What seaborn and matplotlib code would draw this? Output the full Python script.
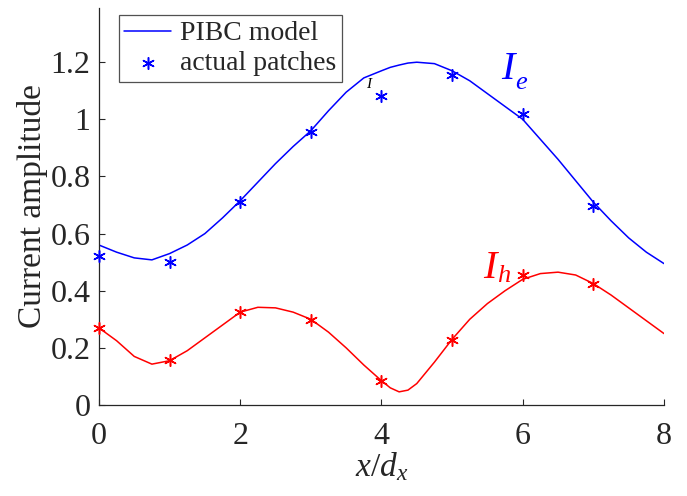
import numpy as np
import pandas as pd
import matplotlib
matplotlib.use("Agg")
import matplotlib.pyplot as plt
import seaborn as sns

# DATA
# patch positions and measured amplitudes
patch_x = [0, 1, 2, 3, 4, 5, 6, 7]
ie_patch = [0.52, 0.50, 0.71, 0.955, 1.08, 1.155, 1.02, 0.695]
ih_patch = [0.27, 0.157, 0.325, 0.297, 0.084, 0.227, 0.455, 0.425]

# PIBC model curves
model_x = [0, 0.25, 0.5, 0.75, 1, 1.25, 1.5, 1.75, 2, 2.25, 2.5, 2.75, 3,
           3.25, 3.5, 3.75, 4, 4.125, 4.25, 4.375, 4.5, 4.75, 5, 5.25, 5.5,
           5.75, 6, 6.25, 6.5, 6.75, 7, 7.25, 7.5, 7.75, 8]
ie_model = [0.56, 0.535, 0.515, 0.508, 0.53, 0.56, 0.60, 0.655, 0.715, 0.78,
            0.845, 0.905, 0.96, 1.03, 1.095, 1.145, 1.17, 1.182, 1.19, 1.197,
            1.20, 1.195, 1.17, 1.135, 1.09, 1.045, 1.0, 0.93, 0.86, 0.785,
            0.71, 0.645, 0.585, 0.535, 0.495]
ih_model = [0.27, 0.225, 0.17, 0.143, 0.155, 0.19, 0.235, 0.28, 0.325, 0.342,
            0.34, 0.325, 0.30, 0.255, 0.20, 0.14, 0.085, 0.06, 0.046, 0.052,
            0.075, 0.15, 0.23, 0.30, 0.355, 0.40, 0.44, 0.46, 0.465, 0.455,
            0.425, 0.385, 0.34, 0.295, 0.25]

x_ticks = [0, 2, 4, 6, 8]
y_ticks = [0, 0.2, 0.4, 0.6, 0.8, 1, 1.2]
y_tick_labels = ["0", "0.2", "0.4", "0.6", "0.8", "1", "1.2"]

sns.set_style("ticks")
plt.rcParams["font.family"] = ["Liberation Serif", "DejaVu Serif"]
plt.rcParams["mathtext.fontset"] = "custom"
plt.rcParams["mathtext.rm"] = "Liberation Serif"
plt.rcParams["mathtext.it"] = "Liberation Serif:italic"
plt.rcParams["xtick.direction"] = "in"
plt.rcParams["ytick.direction"] = "in"

fig = plt.figure(figsize=(6.87, 4.96), dpi=100)
ax = fig.add_axes([0.144, 0.1835, 0.8225, 0.8005])

model = pd.DataFrame({"x": model_x, "ie": ie_model, "ih": ih_model})
patches = pd.DataFrame({"x": patch_x, "ie": ie_patch, "ih": ih_patch})

star = (6, 2, 0)

sns.lineplot(data=model, x="x", y="ie", color="#0000ff", lw=1.1, ax=ax,
             label="PIBC model")
sns.scatterplot(data=patches, x="x", y="ie", color="#0000ff", marker=star,
                s=70, linewidth=1.1, ax=ax, label="actual patches",
                clip_on=False, zorder=5)
sns.lineplot(data=model, x="x", y="ih", color="#ff0000", lw=1.1, ax=ax)
sns.scatterplot(data=patches, x="x", y="ih", color="#ff0000", marker=star,
                s=70, linewidth=1.1, ax=ax, clip_on=False, zorder=5)

ax.set_xlim(0, 8)
ax.set_ylim(0, 1.39)
ax.set_xticks(x_ticks)
ax.set_yticks(y_ticks)
ax.set_yticklabels(y_tick_labels)
ax.tick_params(labelsize=23, colors="#262626", length=4, width=0.8)
ax.tick_params(axis="x", pad=12)
ax.tick_params(axis="y", pad=6)

for side in ["top", "right"]:
    ax.spines[side].set_visible(False)
for side in ["left", "bottom"]:
    ax.spines[side].set_color("#262626")
    ax.spines[side].set_linewidth(0.9)

ax.set_xlabel(r"$x/d_x$", fontsize=24, labelpad=0)
ax.set_ylabel("Current amplitude", fontsize=24, labelpad=2)

# curve labels: big italic I with a lowered subscript
ax.text(5.7, 1.14, "I", color="#0000ff", fontsize=29, style="italic")
ax.text(5.9, 1.105, "e", color="#0000ff", fontsize=19, style="italic")
ax.text(5.44, 0.445, "I", color="#ff0000", fontsize=29, style="italic")
ax.text(5.64, 0.43, "h", color="#ff0000", fontsize=19, style="italic")
ax.text(3.78, 1.11, "I", color="black", fontsize=11, style="italic")

leg = ax.legend(loc="upper left", bbox_to_anchor=(0.025, 0.995), fontsize=20,
                frameon=True, fancybox=False, edgecolor="#262626",
                borderpad=0.2, labelspacing=0.15, handlelength=1.7,
                handletextpad=0.3, borderaxespad=0.2)
leg.get_frame().set_linewidth(0.9)

fig.savefig("out.png", dpi=100)
